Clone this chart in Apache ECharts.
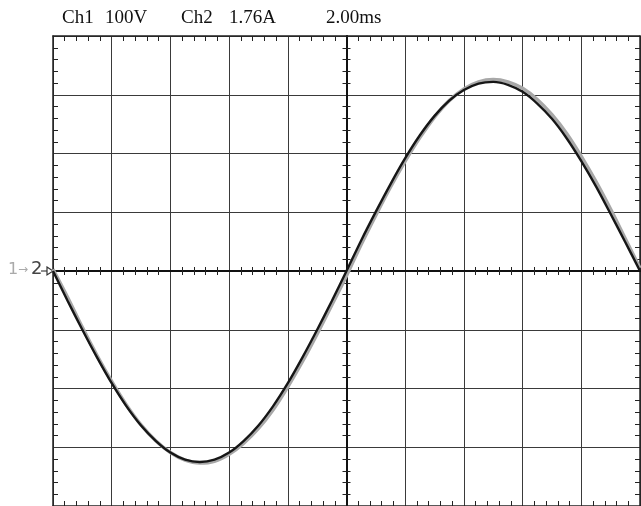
<!DOCTYPE html>
<html>
<head>
<meta charset="utf-8">
<script src="https://cdn.jsdelivr.net/npm/echarts@6/dist/echarts.min.js"></script>
<style>
  html, body { margin: 0; padding: 0; background: #fff; }
  #chart { width: 641px; height: 506px; }
</style>
</head>
<body>
<div id="chart"></div>
<script>
// time base 2.00 ms/div, 10 divisions
var timeMs = [0, 0.5, 1, 1.5, 2, 2.5, 3, 3.5, 4, 4.5, 5, 5.5, 6, 6.5, 7, 7.5, 8, 8.5, 9, 9.5, 10,
  10.5, 11, 11.5, 12, 12.5, 13, 13.5, 14, 14.5, 15, 15.5, 16, 16.5, 17, 17.5, 18, 18.5, 19, 19.5, 20];
// traces, in divisions
var ch1Div = [0, -0.51, -1.00, -1.47, -1.91, -2.30, -2.63, -2.89, -3.09, -3.21, -3.25, -3.21, -3.09, -2.89, -2.63, -2.30, -1.91, -1.47, -1.00, -0.51, 0,
  0.52, 1.01, 1.48, 1.92, 2.31, 2.64, 2.90, 3.08, 3.19, 3.22, 3.17, 3.05, 2.85, 2.59, 2.26, 1.87, 1.44, 0.97, 0.49, 0];
var ch2Div = [0.03, -0.45, -0.96, -1.44, -1.88, -2.28, -2.62, -2.89, -3.09, -3.22, -3.27, -3.24, -3.12, -2.93, -2.68, -2.36, -1.97, -1.54, -1.07, -0.58, -0.08,
  0.45, 0.95, 1.43, 1.87, 2.27, 2.62, 2.90, 3.10, 3.22, 3.26, 3.22, 3.11, 2.92, 2.66, 2.34, 1.95, 1.52, 1.05, 0.55, 0.05];
var headerTexts = ['Ch1', '100V', 'Ch2', '1.76A', '2.00ms'];
var headerX = [62, 105, 181, 229, 326];

var gridLeft = 53, gridTop = 36, gridW = 587, gridH = 470;

var chart = echarts.init(document.getElementById('chart'));

// center: the cross through the middle of the screen, drawn darker
function xAx(pos, offset, inside, center) {
  return {
    type: 'value', min: 0, max: 20, interval: 2, position: pos, offset: offset,
    axisLine: { show: true, onZero: false, lineStyle: { color: center ? '#111' : '#222', width: center ? 2 : 1.5 } },
    axisTick: { show: false, inside: inside },
    minorTick: { show: true, splitNumber: 5, length: center ? 4 : 5, lineStyle: { color: '#222', width: 1 } },
    axisLabel: { show: false },
    splitLine: { show: pos === 'bottom' && !center, lineStyle: { color: '#3a3a3a', width: 1 } }
  };
}
function yAx(pos, offset, inside, center) {
  return {
    type: 'value', min: -4, max: 4, interval: 1, position: pos, offset: offset,
    axisLine: { show: true, onZero: false, lineStyle: { color: center ? '#111' : '#222', width: center ? 2 : 1.5 } },
    axisTick: { show: false, inside: inside },
    minorTick: { show: true, splitNumber: 5, length: center ? 4 : 5, lineStyle: { color: '#222', width: 1 } },
    axisLabel: { show: false },
    splitLine: { show: pos === 'left' && !center, lineStyle: { color: '#3a3a3a', width: 1 } }
  };
}

var graphics = headerTexts.map(function (t, i) {
  return {
    type: 'text', left: headerX[i], top: 9,
    style: { text: t, fill: '#111', font: '19px "Liberation Serif"' }
  };
});
graphics.push(
  { type: 'text', left: 8, top: 262, style: { text: '1', fill: '#aaa', font: '16px "DejaVu Sans"' } },
  { type: 'text', left: 18, top: 264, style: { text: '→', fill: '#aaa', font: '12px "DejaVu Sans"' } },
  { type: 'text', left: 31, top: 260, style: { text: '2', fill: '#444', font: '18px "DejaVu Sans"' } },
  { type: 'line', shape: { x1: 41, y1: 271, x2: 47, y2: 271 }, style: { stroke: '#444', lineWidth: 1.2 } },
  { type: 'polygon', shape: { points: [[47, 267], [53, 271], [47, 275]] }, style: { fill: '#fff', stroke: '#333', lineWidth: 1.2 } }
);

chart.setOption({
  animation: false,
  grid: { left: gridLeft, top: gridTop, width: gridW, height: gridH },
  xAxis: [
    xAx('bottom', 0, true, false),
    xAx('top', 0, true, false),
    xAx('bottom', -gridH / 2, true, true),
    xAx('bottom', -gridH / 2, false, true)
  ],
  yAxis: [
    yAx('left', 0, true, false),
    yAx('right', 0, true, false),
    yAx('left', -gridW / 2, true, true),
    yAx('left', -gridW / 2, false, true)
  ],
  graphic: graphics,
  series: [
    {
      name: 'Ch2', type: 'line', smooth: 0.3, showSymbol: false, z: 3,
      lineStyle: { color: '#a8a8a8', width: 3.5 },
      data: timeMs.map(function (t, i) { return [t, ch2Div[i]]; })
    },
    {
      name: 'Ch1', type: 'line', smooth: 0.3, showSymbol: false, z: 4,
      lineStyle: { color: '#161616', width: 2.4 },
      data: timeMs.map(function (t, i) { return [t, ch1Div[i]]; })
    }
  ]
});
</script>
</body>
</html>
